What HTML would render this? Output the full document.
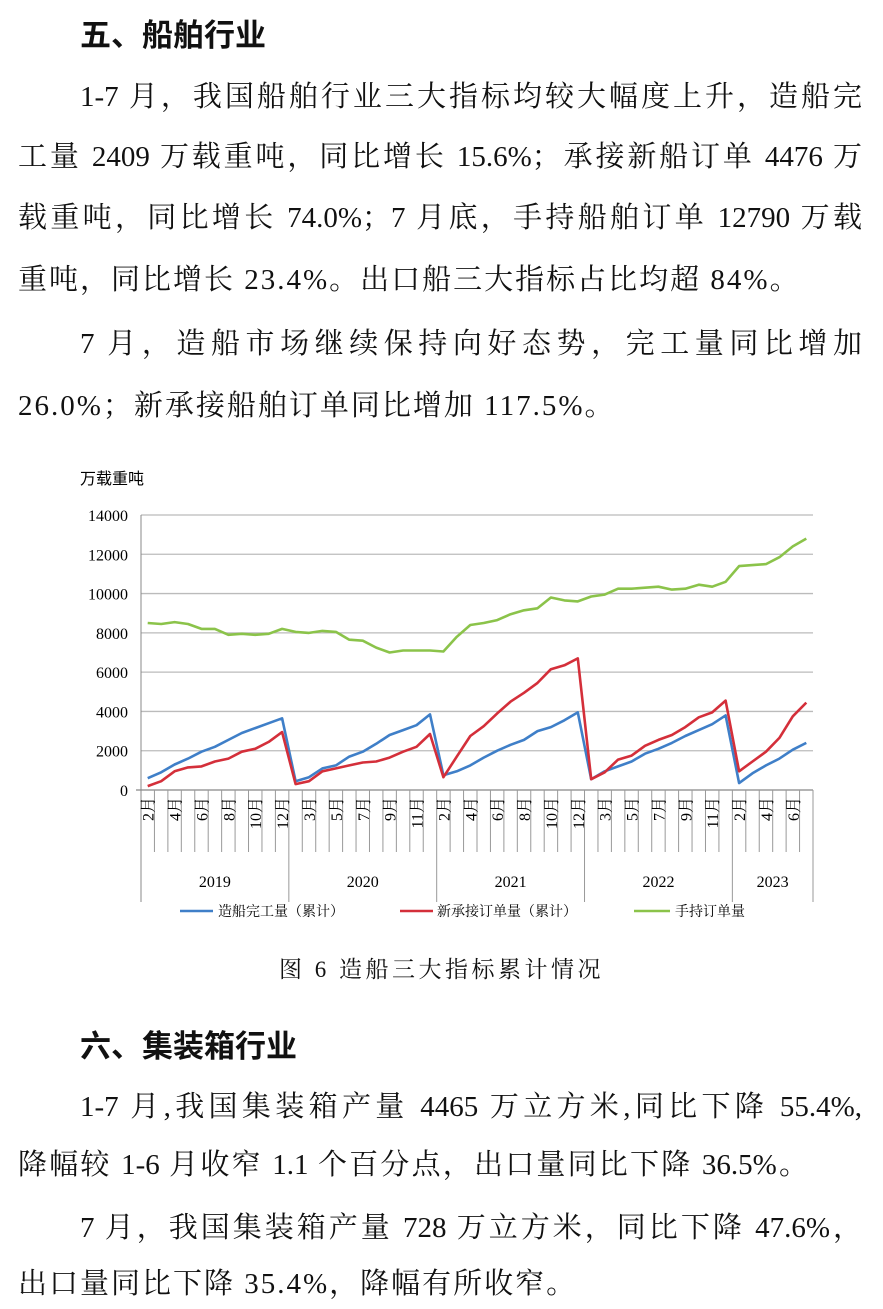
<!DOCTYPE html>
<html><head><meta charset="utf-8">
<style>
body{margin:0;width:883px;height:1309px;background:#fff;position:relative;overflow:hidden;font-family:"Liberation Serif","Noto Serif CJK SC",serif;color:#111}
.l{position:absolute;left:18px;width:844px;font-size:29px;line-height:36px;white-space:nowrap;text-align:justify;text-align-last:justify}
.l.i{left:80px;width:782px}
.l.e{text-align-last:left;letter-spacing:2px}
.h{position:absolute;left:80px;font-size:31px;font-weight:bold;font-family:"Noto Sans CJK SC","Noto Serif CJK SC",sans-serif;line-height:36px}
svg{position:absolute;left:0;top:0}
</style></head><body>
<div class="h" style="top:15px">五、船舶行业</div>
<div class="l i" style="top:79px">1-7 月，我国船舶行业三大指标均较大幅度上升，造船完</div>
<div class="l" style="top:139px">工量 2409 万载重吨，同比增长 15.6%；承接新船订单 4476 万</div>
<div class="l" style="top:200px">载重吨，同比增长 74.0%；7 月底，手持船舶订单 12790 万载</div>
<div class="l e" style="top:262px">重吨，同比增长 23.4%。出口船三大指标占比均超 84%。</div>
<div class="l i" style="top:326px">7 月，造船市场继续保持向好态势，完工量同比增加</div>
<div class="l e" style="top:388px">26.0%；新承接船舶订单同比增加 117.5%。</div>

<svg width="883" height="1309" id="c" font-family="Liberation Serif, Noto Serif CJK SC, serif"></svg>

<div style="position:absolute;left:0;width:883px;top:955px;text-align:center;font-size:23px;line-height:30px;letter-spacing:3.5px">图 6 造船三大指标累计情况</div>

<div class="h" style="top:1026px">六、集装箱行业</div>
<div class="l i" style="top:1089px">1-7 月,我国集装箱产量 4465 万立方米,同比下降 55.4%,</div>
<div class="l" style="top:1147px;width:790px">降幅较 1-6 月收窄 1.1 个百分点，出口量同比下降 36.5%。</div>
<div class="l i" style="top:1210px">7 月，我国集装箱产量 728 万立方米，同比下降 47.6%，</div>
<div class="l e" style="top:1266px">出口量同比下降 35.4%，降幅有所收窄。</div>

<script>
var s=document.getElementById('c'),o='';
var L=141,R=813,Y0=790,W=13.44;
function y(v){return Y0-v*275/14000}
function x(i){return L+W*(i+0.5)}
o+='<text x="80" y="484" font-size="16" font-family="Noto Sans CJK SC, sans-serif">万载重吨</text>';
for(var k=0;k<=7;k++){var yy=y(k*2000);
 o+='<line x1="'+(k==0?136:L)+'" x2="'+R+'" y1="'+yy+'" y2="'+yy+'" stroke="'+(k==0?'#888':'#bbb')+'" stroke-width="1.3"/>';
 o+='<text x="128" y="'+(yy+6)+'" font-size="16" text-anchor="end">'+(k*2000)+'</text>';}
o+='<line x1="'+L+'" x2="'+L+'" y1="515" y2="902" stroke="#888"/>';
var grp=[0,11,22,33,44,50];
for(var i=1;i<=50;i++){var xx=L+W*i;var g=grp.indexOf(i)>=0;
 o+='<line x1="'+xx+'" x2="'+xx+'" y1="790" y2="'+(g?902:852)+'" stroke="#999"/>';}
var yrs=['2019','2020','2021','2022','2023'];
for(var g=0;g<5;g++){o+='<text x="'+(L+W*(grp[g]+grp[g+1])/2)+'" y="887" font-size="16" text-anchor="middle">'+yrs[g]+'</text>';}
var mons=[];for(var yi=0;yi<4;yi++)for(var m=2;m<=12;m++)mons.push(m);for(var m=2;m<=7;m++)mons.push(m);
for(var i=0;i<50;i+=2){var xx=x(i)+6;o+='<text transform="translate('+xx+',797) rotate(-90)" font-size="16" text-anchor="end">'+mons[i]+'月</text>';}
var G=[8500,8450,8550,8450,8200,8200,7900,7950,7900,7950,8200,8050,8000,8100,8050,7650,7600,7250,7000,7100,7100,7100,7050,7800,8400,8500,8650,8950,9150,9250,9800,9650,9600,9850,9950,10250,10250,10300,10350,10200,10250,10450,10350,10600,11400,11450,11500,11850,12400,12800];
var B=[600,900,1300,1600,1950,2200,2550,2900,3150,3400,3650,450,650,1100,1250,1700,1950,2350,2800,3050,3300,3850,750,950,1250,1650,2000,2300,2550,3000,3200,3550,3950,550,950,1200,1450,1850,2100,2400,2750,3050,3350,3800,350,850,1250,1600,2050,2400];
var Rd=[200,450,950,1150,1200,1450,1600,1950,2100,2450,2950,300,450,950,1100,1250,1400,1450,1650,1950,2200,2850,650,1700,2750,3250,3900,4500,4950,5450,6150,6350,6700,550,900,1550,1750,2250,2550,2800,3200,3700,3950,4550,950,1450,1950,2650,3750,4450];
function pl(d,c){var p=d.map(function(v,i){return x(i).toFixed(1)+','+y(v).toFixed(1)}).join(' ');return '<polyline points="'+p+'" fill="none" stroke="'+c+'" stroke-width="2.6" stroke-linejoin="round"/>';}
o+=pl(G,'#8bc34a')+pl(B,'#3f7fc8')+pl(Rd,'#d42f3a');
o+='<line x1="180" x2="213" y1="911" y2="911" stroke="#3f7fc8" stroke-width="2.6"/><text x="218" y="916" font-size="14">造船完工量（累计）</text>';
o+='<line x1="400" x2="433" y1="911" y2="911" stroke="#d42f3a" stroke-width="2.6"/><text x="437" y="916" font-size="14">新承接订单量（累计）</text>';
o+='<line x1="634" x2="670" y1="911" y2="911" stroke="#8bc34a" stroke-width="2.6"/><text x="675" y="916" font-size="14">手持订单量</text>';
s.innerHTML=o;
</script>
</body></html>
